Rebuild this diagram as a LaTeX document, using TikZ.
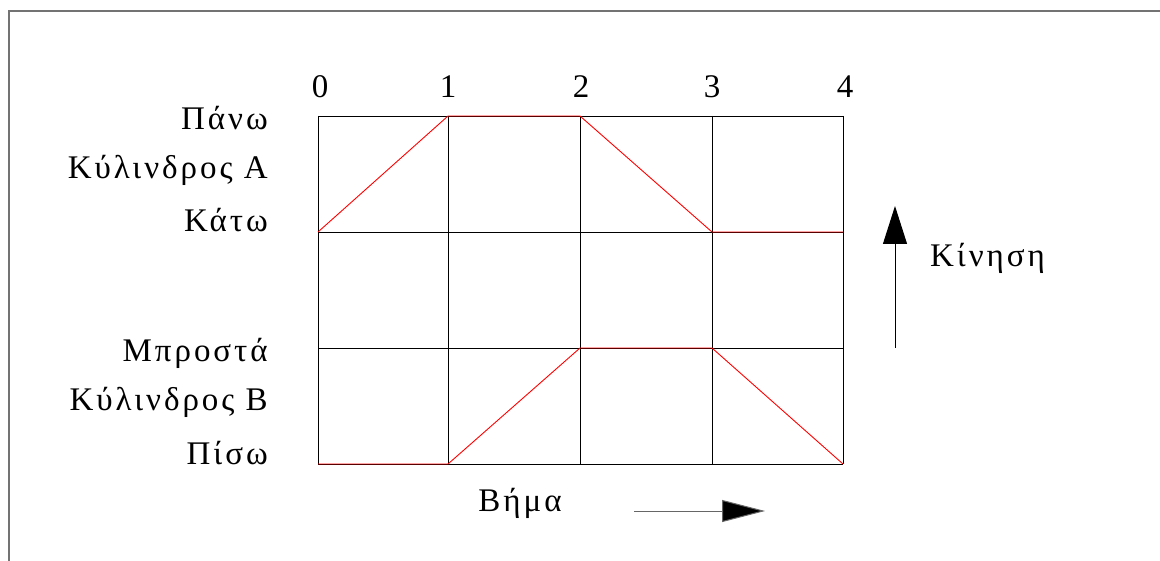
\documentclass[tikz,border=0pt]{standalone}
\usepackage{fontspec}
\setmainfont{Liberation Serif}
\newfontfamily\spaced[LetterSpace=9]{Liberation Serif}
\usetikzlibrary{arrows.meta}
\begin{document}
\begin{tikzpicture}[x=1pt,y=-1pt,
  lbl/.style={font=\spaced\fontsize{33}{37}\selectfont, inner sep=0pt},
  gridline/.style={black, line width=0.9pt},
  redline/.style={red, line width=0.9pt},
  frameline/.style={draw=black!55, line width=2pt},
  motion/.style={black, line width=1pt}]
\useasboundingbox (0,0) rectangle (1160,561);
\draw[frameline] (9,561) -- (9,11) -- (1160,11);
% grid
\foreach \x in {318,448,580,712,843} \draw[gridline] (\x,116) -- (\x,464);
\foreach \y in {116,232,348,464} \draw[gridline] (318,\y) -- (843,\y);
% red traces
\coordinate (a0) at (318,232); \coordinate (a1) at (448,116); \coordinate (a2) at (580,116);
\coordinate (a3) at (712,232); \coordinate (a4) at (843,232);
\coordinate (b0) at (318,464); \coordinate (b1) at (448,464); \coordinate (b2) at (580,348);
\coordinate (b3) at (712,348); \coordinate (b4) at (843,464);
\draw[redline] (a0) -- (a1) -- (a2) -- (a3) -- (a4);
\draw[redline] (b0) -- (b1) -- (b2) -- (b3) -- (b4);
% step numbers
\node[lbl] (n0) at (320,87) {0};
\node[lbl] (n1) at (448,87) {1};
\node[lbl] (n2) at (581,87) {2};
\node[lbl] (n3) at (712,87) {3};
\node[lbl] (n4) at (845,87) {4};
% row labels
\node[lbl, anchor=east] (pano) at (268,118) {Πάνω};
\node[lbl, anchor=east] (kylA) at (268,170) {Κύλινδρος Α};
\node[lbl, anchor=east] (kato) at (268,220) {Κάτω};
\node[lbl, anchor=east] (mpro) at (268,353) {Μπροστά};
\node[lbl, anchor=east] (kylB) at (268,402) {Κύλινδρος Β};
\node[lbl, anchor=east] (piso) at (268,453) {Πίσω};
% motion arrow
\coordinate (up0) at (895,348); \coordinate (up1) at (895,206);
\draw[motion, -{Triangle[length=38pt,width=24pt]}] (up0) -- (up1);
\node[lbl, anchor=west] (kin) at (930,258) {Κίνηση};
% step arrow
\node[lbl] (vima) at (520,503) {Βήμα};
\coordinate (st0) at (634,511); \coordinate (st1) at (765,511);
\draw[motion, draw=black!60, -{Triangle[length=43pt,width=22pt,fill=black]}] (st0) -- (st1);
\end{tikzpicture}
\end{document}
